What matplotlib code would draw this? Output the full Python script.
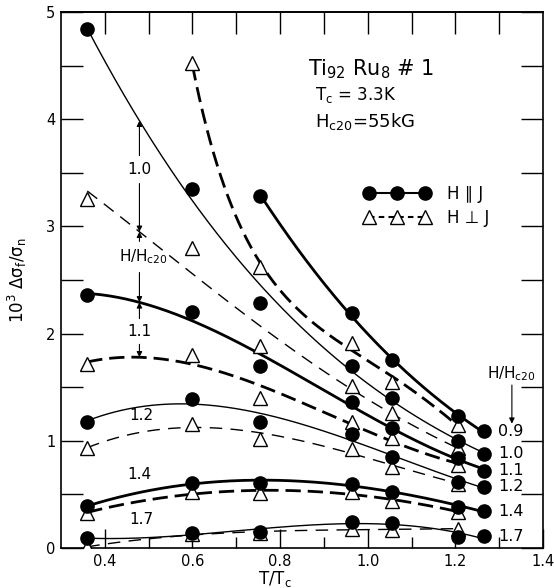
import numpy as np
import matplotlib
matplotlib.use('Agg')
import matplotlib.pyplot as plt
from matplotlib.lines import Line2D
from matplotlib.ticker import FixedLocator, MultipleLocator

plt.rcParams['font.family'] = ['DejaVu Sans']
plt.rcParams['lines.scale_dashes'] = False
plt.rcParams['mathtext.default'] = 'regular'

nan = np.nan
# reduced temperature columns
t_tc = [0.36, 0.60, 0.755, 0.965, 1.055, 1.205, 1.265]
field_labels = ['0.9', '1.0', '1.1', '1.2', '1.4', '1.7']

# H parallel J (filled circles)
par_09 = [nan, nan, 3.28, 2.19, 1.75, 1.23, 1.09]
par_10 = [4.84, 3.35, 2.29, 1.70, 1.40, 1.00, 0.88]
par_11 = [2.36, 2.20, 1.70, 1.36, 1.12, 0.84, 0.72]
par_12 = [1.18, 1.39, 1.18, 1.06, 0.85, 0.62, 0.57]
par_14 = [0.39, 0.61, 0.61, 0.60, 0.52, 0.385, 0.345]
par_17 = [0.09, 0.14, 0.15, 0.245, 0.236, 0.10, 0.11]

# H perpendicular J (open triangles)
perp_09 = [nan, 4.52, 2.62, 1.91, 1.55, 1.15, nan]
perp_10 = [3.26, 2.80, 1.88, 1.51, 1.26, 0.93, nan]
perp_11 = [1.72, 1.80, 1.40, 1.18, 1.03, 0.77, nan]
perp_12 = [0.93, 1.16, 1.02, 0.92, 0.76, 0.60, nan]
perp_14 = [0.33, 0.52, 0.51, 0.525, 0.44, 0.34, nan]
perp_17 = [0.01, 0.13, 0.14, 0.18, 0.17, 0.18, nan]

par_all = [par_09, par_10, par_11, par_12, par_14, par_17]
perp_all = [perp_09, perp_10, perp_11, perp_12, perp_14, perp_17]

# styles (thick / thin alternating), fit settings for the guide curves
lw_series = [2.0, 1.0, 2.0, 1.0, 2.0, 1.0]
par_fit = [(2, True), (2, True), (3, False), (3, False), (3, False), (3, False)]
perp_fit = [(3, True), (2, True), (3, False), (3, False), (3, False), (3, False)]


def smooth(x, y, deg, logfit):
    x = np.asarray(x, float)
    y = np.asarray(y, float)
    m = ~np.isnan(y)
    xs, ys = x[m], y[m]
    if logfit:
        c = np.polyfit(xs, np.log(ys), deg)
        f = lambda v: np.exp(np.polyval(c, v))
    else:
        c = np.polyfit(xs, ys, deg)
        f = lambda v: np.polyval(c, v)
    xx = np.linspace(xs.min(), xs.max(), 300)
    return xx, f(xx), f


fig = plt.figure(figsize=(5.54, 5.88), dpi=100)
ax = fig.add_axes([61 / 554, 40 / 588, 482 / 554, 536 / 588])

funcs_par, funcs_perp = [], []
for ys, lw, (deg, lg) in zip(perp_all, lw_series, perp_fit):
    xx, yy, f = smooth(t_tc, ys, deg, lg)
    funcs_perp.append(f)
    dash = (11, 5) if lw > 1.5 else (9, 6)
    ax.plot(xx, yy, color='k', lw=lw, dashes=dash, zorder=2)
for ys, lw, (deg, lg) in zip(par_all, lw_series, par_fit):
    xx, yy, f = smooth(t_tc, ys, deg, lg)
    funcs_par.append(f)
    ax.plot(xx, yy, color='k', lw=lw, ls='-', zorder=2)

for ys in perp_all:
    ax.plot(t_tc, ys, ls='none', marker='^', ms=10, mfc='white', mec='k',
            mew=1.0, zorder=3)
for ys in par_all:
    ax.plot(t_tc, ys, ls='none', marker='o', ms=9.5, mfc='k', mec='k',
            zorder=4)

ax.set_xlim(0.3, 1.4)
ax.set_ylim(0, 5)

# axis ticks
major_x = [0.4, 0.6, 0.8, 1.0, 1.2, 1.4]
ax.xaxis.set_major_locator(FixedLocator(major_x))
ax.set_xticklabels([f'{v:.1f}' for v in major_x])
ax.xaxis.set_minor_locator(FixedLocator([0.5, 0.7, 0.9, 1.1, 1.3]))
ax.tick_params(axis='x', which='major', direction='in', length=14, width=1,
               top=False, labelsize=10.5, pad=4)
ax.tick_params(axis='x', which='minor', direction='in', length=8, width=1,
               top=False)
sec = ax.secondary_xaxis('top')
sec.set_xticks([0.4, 0.5, 0.6, 0.7, 0.8, 0.9, 1.0, 1.1, 1.2, 1.3])
sec.set_xticklabels([])
sec.tick_params(direction='in', length=16, width=1)
sec.spines['top'].set_linewidth(1.2)

ax.yaxis.set_major_locator(MultipleLocator(1))
ax.yaxis.set_minor_locator(MultipleLocator(0.5))
ax.tick_params(axis='y', which='both', direction='in', length=16, width=1,
               left=True, right=True, labelsize=10.5, pad=4)
for s in ax.spines.values():
    s.set_linewidth(1.2)

ax.set_xlabel(r'T/T$_c$', fontsize=12)
ax.xaxis.set_label_coords(0.444, -0.040)
ax.set_ylabel(r'10$^3$ $\Delta\sigma_f/\sigma_n$', fontsize=12)
ax.yaxis.set_label_coords(-0.066, 0.5)

# sample info
ax.text(0.863, 4.41, r'Ti$_{92}$ Ru$_{8}$ # 1', fontsize=15, va='baseline')
ax.text(0.879, 4.18, r'T$_c$ = 3.3K', fontsize=12, va='baseline')
ax.text(0.879, 3.93, r'H$_{c20}$=55kG', fontsize=13, va='baseline')

# legend
h_par = Line2D([], [], color='k', lw=1.5, marker='o', ms=9.5)
h_perp = Line2D([], [], color='k', lw=1.5, dashes=(4, 3), marker='^', ms=10,
                mfc='white', mew=1.0)
ax.legend([h_par, h_perp], ['H \u2225 J', 'H \u22a5 J'], numpoints=3,
          handlelength=4.0, handletextpad=1.0, labelspacing=0.35,
          fontsize=12, frameon=False, loc='upper left',
          bbox_to_anchor=(0.628, 0.677), borderaxespad=0, borderpad=0)

# left-hand annotation with arrows between curves
xa = 0.479
y10 = funcs_par[1](xa)
y10p = funcs_perp[1](xa)
y11 = funcs_par[2](xa)
y11p = funcs_perp[2](xa)
arrow = dict(arrowstyle='-|>', color='k', lw=0.8, mutation_scale=8,
             shrinkA=0, shrinkB=0)


def arr(y0, y1):
    ax.annotate('', xy=(xa, y1), xytext=(xa, y0), arrowprops=arrow)


ax.text(xa, 3.53, '1.0', fontsize=11, ha='center', va='center')
arr(3.66, y10)
arr(3.40, y10p)
ax.text(xa + 0.008, 2.72, r'H/H$_{c20}$', fontsize=11, ha='center', va='center')
arr(2.86, y10p)
arr(2.57, y11)
ax.text(xa, 2.02, '1.1', fontsize=11, ha='center', va='center')
arr(2.14, y11)
arr(1.90, y11p)

ax.text(0.483, 1.17, '1.2', fontsize=11, ha='center', va='bottom')
ax.text(0.480, 0.62, '1.4', fontsize=11, ha='center', va='bottom')
ax.text(0.483, 0.20, '1.7', fontsize=11, ha='center', va='bottom')

# right-hand labels
ax.text(1.327, 1.63, r'H/H$_{c20}$', fontsize=11, ha='center', va='center')
ax.annotate('', xy=(1.329, 1.16), xytext=(1.329, 1.52), arrowprops=arrow)
for lab, ys in zip(field_labels, par_all):
    ax.text(1.297, ys[-1], lab, fontsize=11.5, ha='left', va='center')

fig.savefig('out.png', dpi=100)
